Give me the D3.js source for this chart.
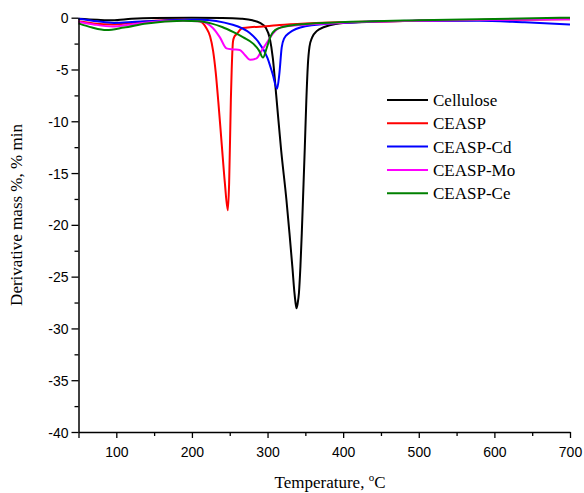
<!DOCTYPE html>
<html>
<head>
<meta charset="utf-8">
<script src="https://cdn.jsdelivr.net/npm/d3@7"></script>
<style>
  body { margin: 0; background: #fff; }
  svg { display: block; }
</style>
</head>
<body>
<div id="chart"></div>
<script>
// series names and colours
const names = ['Cellulose', 'CEASP', 'CEASP-Cd', 'CEASP-Mo', 'CEASP-Ce'];
const colors = ['#000000', '#ff0000', '#0000ff', '#ff00ff', '#008000'];

// DTG curves, [temperature °C, derivative mass %/min]
const cellulose = [
  [50, -0.1], [75, -0.2], [95, -0.25], [120, -0.1], [150, -0.02], [200, 0], [240, -0.02],
  [265, -0.1], [280, -0.25], [290, -0.5], [298, -1.0], [303, -2.0], [307, -3.9],
  [311.5, -7.5], [318, -12.8], [325, -17.6], [329, -20.8], [333, -24.2], [335.5, -26.5],
  [337, -27.5], [338.3, -28.05], [339.8, -27.6], [341.5, -26.6], [343.5, -24],
  [345.3, -20.8], [347, -17.3], [349.3, -12.5], [351.3, -8], [353.3, -4.6], [355.5, -2.8],
  [359, -1.9], [365, -1.3], [375, -0.9], [390, -0.6], [420, -0.45], [500, -0.3],
  [600, -0.2], [700, -0.1]
];
const ceasp = [
  [50, -0.35], [70, -0.55], [95, -0.65], [120, -0.5], [150, -0.3], [190, -0.2], [210, -0.35],
  [219, -1.0], [224, -1.8], [228, -3.2], [231.5, -5.3], [235, -8.2], [239.5, -12.3],
  [243.5, -15.9], [247.5, -18.6], [249.2, -16], [251.5, -7.9], [252.6, -5],
  [254.3, -2.3], [256, -1.85], [259, -1.6], [267, -1.0], [280, -0.9], [298, -0.83],
  [316, -0.7], [350, -0.55], [395, -0.45], [500, -0.3], [600, -0.2], [700, -0.15]
];
const ceaspCd = [
  [50, -0.1], [75, -0.35], [97, -0.5], [125, -0.4], [160, -0.29], [190, -0.2], [210, -0.19],
  [254, -0.68], [276.5, -1.48], [287, -2.25], [300, -3.9], [307, -5.5], [312.6, -6.85],
  [315.5, -5.5], [318.7, -2.9], [322, -2.0], [328.5, -1.48], [350, -0.83], [395, -0.5],
  [500, -0.3], [580, -0.3], [640, -0.45], [700, -0.65]
];
const ceaspMo = [
  [50, -0.39], [70, -0.65], [95, -0.85], [120, -0.65], [160, -0.35], [190, -0.3], [210, -0.35],
  [227.7, -0.99], [237, -1.9], [245.7, -2.96], [254.5, -3.06], [263.3, -3.12], [270, -3.6],
  [277, -4.07], [285.4, -3.93], [292, -3.2], [298.6, -2.47], [307.3, -1.5], [315, -1.0],
  [325, -0.83], [395, -0.5], [500, -0.3], [600, -0.2], [700, -0.15]
];
const ceaspCe = [
  [50, -0.55], [68, -0.95], [87, -1.19], [110, -0.95], [140, -0.55], [188, -0.3], [210, -0.35],
  [225, -0.55], [240, -0.9], [255, -1.4], [268, -1.9], [281, -2.5], [289, -3.2], [294, -3.85],
  [299, -2.9], [304, -1.8], [310, -1.2], [320, -0.9], [350, -0.6], [395, -0.45],
  [500, -0.25], [600, -0.12], [700, 0.0]
];

const xTicks = [50, 100, 150, 200, 250, 300, 350, 400, 450, 500, 550, 600, 650, 700];
const yTicks = [0, -2.5, -5, -7.5, -10, -12.5, -15, -17.5, -20, -22.5, -25, -27.5, -30, -32.5, -35, -37.5, -40];

const series = [cellulose, ceasp, ceaspCd, ceaspMo, ceaspCe];

const width = 584, height = 493;
const x = d3.scaleLinear().domain([50, 700]).range([78.5, 570]);
const y = d3.scaleLinear().domain([-40, 0]).range([432, 17.7]);

const svg = d3.select('#chart').append('svg')
  .attr('width', width)
  .attr('height', height);

// curves
const line = d3.line()
  .x(d => x(d[0]))
  .y(d => y(d[1]))
  .curve(d3.curveMonotoneX);

svg.selectAll('path.curve')
  .data(series)
  .enter()
  .append('path')
  .attr('class', 'curve')
  .attr('d', line)
  .attr('fill', 'none')
  .attr('stroke', (d, i) => colors[i])
  .attr('stroke-width', 2)
  .attr('stroke-linejoin', 'round');

// x axis: major every 100, minor in between
const xAxis = svg.append('g').attr('transform', `translate(0,${y(-40)})`)
  .call(d3.axisBottom(x)
    .tickValues(xTicks)
    .tickSize(0)
    .tickFormat(d => (d % 100 === 0 ? d : '')));
xAxis.selectAll('.tick line')
  .attr('y2', d => (d % 100 === 0 || d === 50 ? 6 : 4));
xAxis.selectAll('.tick text').attr('dy', 0).attr('y', 25);

// y axis: major every 5, minor in between
const yAxis = svg.append('g').attr('transform', `translate(${x(50)},0)`)
  .call(d3.axisLeft(y)
    .tickValues(yTicks)
    .tickSize(0)
    .tickFormat(d => (d % 5 === 0 ? d3.format('d')(d).replace('−', '-') : '')));
yAxis.selectAll('.tick line')
  .attr('x2', d => (d % 5 === 0 ? -7 : -4));
yAxis.selectAll('.tick text').attr('x', -10).attr('dy', '0.36em');

svg.selectAll('.domain').attr('stroke', '#000').attr('stroke-width', 1.5);
svg.selectAll('.tick line').attr('stroke', '#000').attr('stroke-width', 1.3);
svg.selectAll('.tick text')
  .attr('font-family', '"Liberation Sans", Arial, sans-serif')
  .attr('font-size', 14)
  .attr('fill', '#000');

// axis titles
const xTitle = svg.append('text')
  .attr('x', 330)
  .attr('y', 488)
  .attr('text-anchor', 'middle')
  .attr('font-family', '"Liberation Serif", "Times New Roman", serif')
  .attr('font-size', 17);
xTitle.append('tspan').text('Temperature, ');
xTitle.append('tspan').attr('font-size', 11).attr('dy', -7).text('o');
xTitle.append('tspan').attr('dy', 7).text('C');

svg.append('text')
  .attr('transform', 'translate(22,215) rotate(-90)')
  .attr('text-anchor', 'middle')
  .attr('font-family', '"Liberation Serif", "Times New Roman", serif')
  .attr('font-size', 17)
  .text('Derivative mass %, % min');

// legend
const legend = svg.append('g').attr('transform', 'translate(387,100)');
const items = legend.selectAll('g')
  .data(names)
  .enter()
  .append('g')
  .attr('transform', (d, i) => `translate(0,${i * 23.3})`);
items.append('line')
  .attr('x1', 0).attr('x2', 41)
  .attr('y1', 0).attr('y2', 0)
  .attr('stroke', (d, i) => colors[i])
  .attr('stroke-width', 2);
items.append('text')
  .attr('x', 46)
  .attr('y', 6)
  .attr('font-family', '"Liberation Serif", "Times New Roman", serif')
  .attr('font-size', 17)
  .text(d => d);
</script>
</body>
</html>
